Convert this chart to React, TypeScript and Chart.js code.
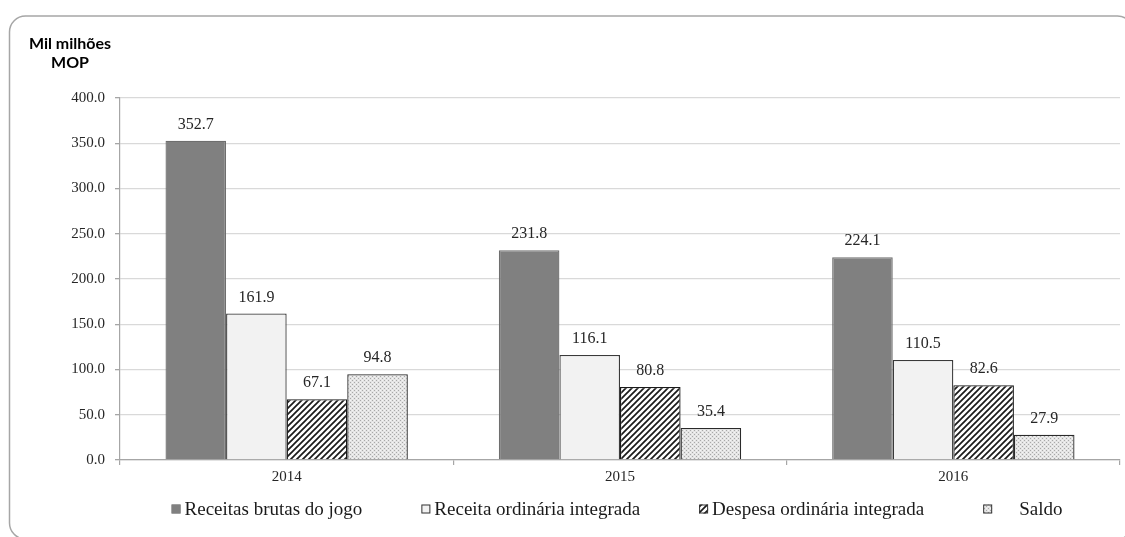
import React, { useEffect, useRef } from 'react';
import { Chart, registerables } from 'chart.js';

Chart.register(...registerables);

// ---- data ----
const categories = ['2014', '2015', '2016'];
const receitasBrutas = [352.7, 231.8, 224.1];
const receitaOrdinaria = [161.9, 116.1, 110.5];
const despesaOrdinaria = [67.1, 80.8, 82.6];
const saldo = [94.8, 35.4, 27.9];
const seriesLabels = [
  'Receitas brutas do jogo',
  'Receita ordinária integrada',
  'Despesa ordinária integrada',
  'Saldo',
];
const yMin = 0;
const yMax = 400;
const yStep = 50;
const unitTitle = ['Mil milhões', 'MOP'];

const SERIF = '"Liberation Serif", "Times New Roman", serif';

function makeHatch(): CanvasPattern | string {
  const s = 6;
  const c = document.createElement('canvas');
  c.width = s;
  c.height = s;
  const g = c.getContext('2d');
  if (!g) return '#888';
  g.fillStyle = '#ffffff';
  g.fillRect(0, 0, s, s);
  g.strokeStyle = '#1a1a1a';
  g.lineWidth = 1.7;
  g.beginPath();
  g.moveTo(-1, s + 1);
  g.lineTo(s + 1, -1);
  g.moveTo(-1, 1);
  g.lineTo(1, -1);
  g.moveTo(s - 1, s + 1);
  g.lineTo(s + 1, s - 1);
  g.stroke();
  return g.createPattern(c, 'repeat') || '#888';
}

function makeDots(): CanvasPattern | string {
  const s = 4;
  const c = document.createElement('canvas');
  c.width = s;
  c.height = s;
  const g = c.getContext('2d');
  if (!g) return '#ddd';
  g.fillStyle = '#e4e4e4';
  g.fillRect(0, 0, s, s);
  g.fillStyle = '#a8a8a8';
  g.fillRect(0, 0, 1, 1);
  g.fillRect(2, 2, 1, 1);
  g.fillStyle = '#f4f4f4';
  g.fillRect(2, 0, 1, 1);
  g.fillRect(0, 2, 1, 1);
  return g.createPattern(c, 'repeat') || '#ddd';
}

export default function App() {
  const ref = useRef<HTMLCanvasElement | null>(null);

  useEffect(() => {
    const canvas = ref.current;
    if (!canvas) return;
    const hatch = makeHatch();
    const dots = makeDots();

    const fills: any[] = ['#808080', '#f2f2f2', hatch, dots];
    const borders = ['#6e6e6e', '#3a3a3a', '#1a1a1a', '#2a2a2a'];
    const values = [receitasBrutas, receitaOrdinaria, despesaOrdinaria, saldo];

    const framePlugin = {
      id: 'frame',
      beforeDraw(chart: any) {
        const ctx = chart.ctx as CanvasRenderingContext2D;
        ctx.save();
        ctx.fillStyle = '#ffffff';
        ctx.fillRect(0, 0, chart.width, chart.height);
        ctx.strokeStyle = '#a6a6a6';
        ctx.lineWidth = 1.5;
        const x = 9.5, y = 16, w = 1124, h = 523, r = 16;
        ctx.beginPath();
        ctx.moveTo(x + r, y);
        ctx.lineTo(x + w - r, y);
        ctx.arcTo(x + w, y, x + w, y + r, r);
        ctx.lineTo(x + w, y + h - r);
        ctx.arcTo(x + w, y + h, x + w - r, y + h, r);
        ctx.lineTo(x + r, y + h);
        ctx.arcTo(x, y + h, x, y + h - r, r);
        ctx.lineTo(x, y + r);
        ctx.arcTo(x, y, x + r, y, r);
        ctx.closePath();
        ctx.stroke();
        ctx.restore();
      },
    };

    const overlayPlugin = {
      id: 'overlay',
      afterDraw(chart: any) {
        const ctx = chart.ctx as CanvasRenderingContext2D;
        const area = chart.chartArea;
        ctx.save();
        // value labels
        ctx.font = `16px ${SERIF}`;
        ctx.fillStyle = '#262626';
        ctx.textAlign = 'center';
        ctx.textBaseline = 'middle';
        chart.data.datasets.forEach((ds: any, di: number) => {
          const meta = chart.getDatasetMeta(di);
          meta.data.forEach((bar: any, i: number) => {
            const v = ds.data[i] as number;
            ctx.fillText(v.toFixed(1), bar.x, bar.y - 16);
          });
        });
        // unit title
        ctx.font = 'bold 16px Lato, "Open Sans", sans-serif';
        ctx.fillStyle = '#000000';
        ctx.textAlign = 'center';
        ctx.fillText(unitTitle[0], 70, 44);
        ctx.fillText(unitTitle[1], 70, 63);
        // legend
        ctx.font = `19px ${SERIF}`;
        ctx.textAlign = 'left';
        ctx.textBaseline = 'middle';
        const box = 9;
        const gaps = [4, 4, 4, 27];
        const between = 59;
        const widths = seriesLabels.map((t, i) => box + gaps[i] + ctx.measureText(t).width);
        const total = widths.reduce((a, b) => a + b, 0) + between * (widths.length - 1);
        let x = (area.left + area.right) / 2 - 3 - total / 2;
        const cy = 509;
        seriesLabels.forEach((t, i) => {
          ctx.fillStyle = fills[i];
          ctx.fillRect(x, cy - box / 2, box, box);
          ctx.strokeStyle = i === 0 ? '#808080' : '#333333';
          ctx.lineWidth = 1;
          ctx.strokeRect(x + 0.5, cy - box / 2 + 0.5, box - 1, box - 1);
          ctx.fillStyle = '#1a1a1a';
          ctx.fillText(t, x + box + gaps[i], cy + 1);
          x += widths[i] + between;
        });
        ctx.restore();
      },
    };

    const chart = new Chart(canvas, {
      type: 'bar',
      data: {
        labels: categories,
        datasets: seriesLabels.map((label, i) => ({
          label,
          data: values[i],
          backgroundColor: fills[i],
          borderColor: borders[i],
          borderWidth: 1.3,
          categoryPercentage: 0.727,
          barPercentage: 1.0,
        })),
      },
      options: {
        responsive: false,
        animation: false,
        layout: { padding: { left: 0, right: 5, top: 98, bottom: 47 } },
        plugins: {
          legend: { display: false },
          tooltip: { enabled: false },
          title: { display: false },
        },
        scales: {
          x: {
            afterFit: (s: any) => {
              s.height = 30;
            },
            grid: {
              display: true,
              drawOnChartArea: false,
              drawTicks: true,
              tickLength: 5,
              offset: true,
              color: '#a6a6a6',
              lineWidth: 1.2,
            },
            border: { display: true, color: '#a6a6a6', width: 1.2 },
            ticks: {
              color: '#262626',
              font: { family: SERIF, size: 15 },
              padding: 3,
            },
          },
          y: {
            min: yMin,
            max: yMax,
            afterFit: (s: any) => {
              s.width = 120;
            },
            grid: {
              color: '#d9d9d9',
              lineWidth: 1.3,
              drawTicks: true,
              tickLength: 5,
              tickColor: '#a6a6a6',
            },
            border: { display: true, color: '#a6a6a6', width: 1.2 },
            ticks: {
              stepSize: yStep,
              color: '#262626',
              font: { family: SERIF, size: 15 },
              padding: 10,
              callback: (v: any) => Number(v).toFixed(1),
            },
          },
        },
      },
      plugins: [framePlugin, overlayPlugin],
    });

    return () => {
      chart.destroy();
    };
  }, []);

  return (
    <div style={{ position: 'absolute', left: 0, top: 0, width: 1125, height: 537, background: '#fff' }}>
      <canvas ref={ref} width={1125} height={537} style={{ display: 'block', width: 1125, height: 537 }} />
    </div>
  );
}
